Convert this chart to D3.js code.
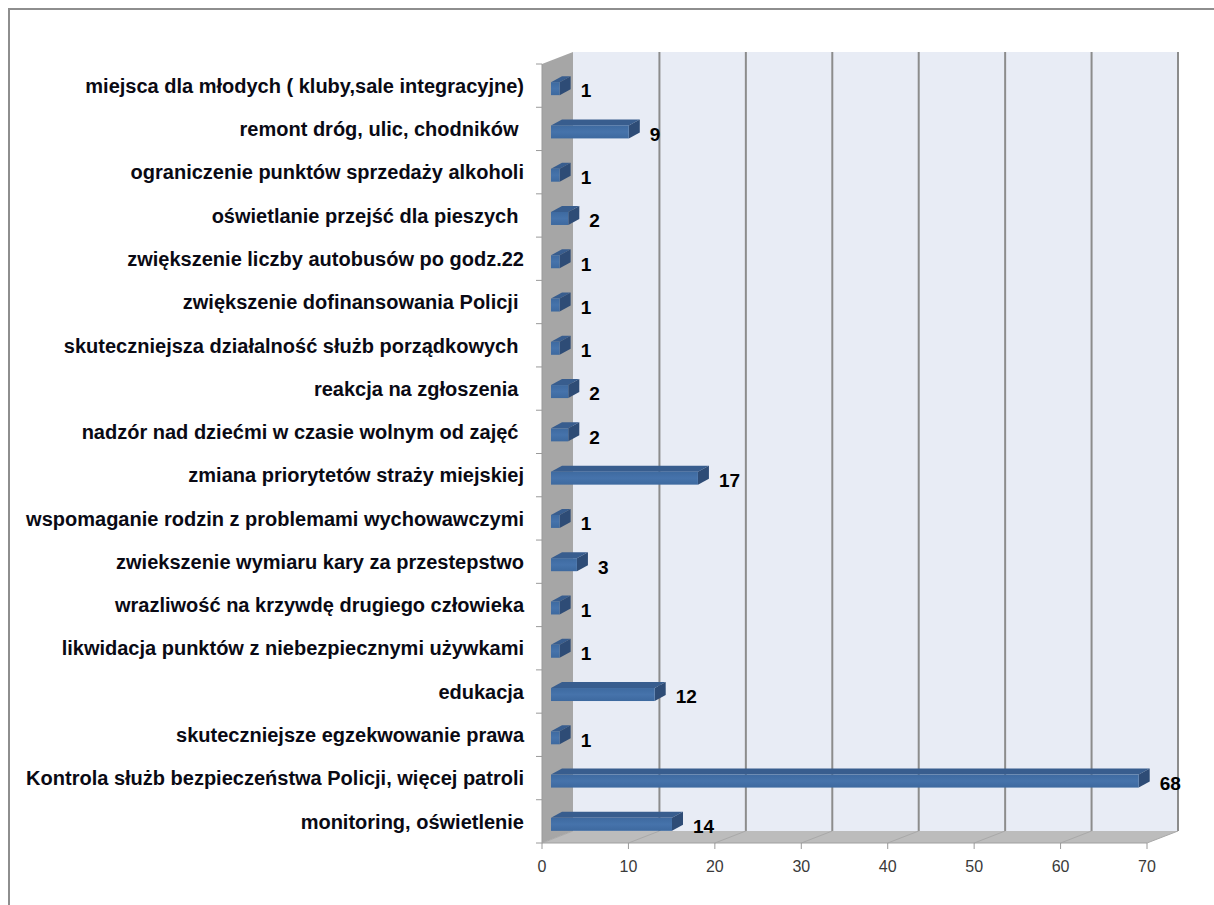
<!DOCTYPE html>
<html>
<head>
<meta charset="utf-8">
<script src="https://cdn.jsdelivr.net/npm/d3@7"></script>
<style>
  body { margin: 0; background: #fff; }
  svg text { font-family: "Liberation Sans", Arial, sans-serif; }
</style>
</head>
<body>
<div id="chart"></div>
<script>
// categories top to bottom, with the answer counts
var categories = [
  "miejsca dla młodych ( kluby,sale integracyjne)",
  "remont dróg, ulic, chodników ",
  "ograniczenie punktów sprzedaży alkoholi",
  "oświetlanie przejść dla pieszych ",
  "zwiększenie liczby autobusów po godz.22",
  "zwiększenie dofinansowania Policji ",
  "skuteczniejsza działalność służb porządkowych ",
  "reakcja na zgłoszenia ",
  "nadzór nad dziećmi w czasie wolnym od zajęć ",
  "zmiana priorytetów straży miejskiej",
  "wspomaganie rodzin z problemami wychowawczymi",
  "zwiekszenie wymiaru kary za przestepstwo",
  "wrazliwość na krzywdę drugiego człowieka",
  "likwidacja punktów z niebezpiecznymi używkami",
  "edukacja",
  "skuteczniejsze egzekwowanie prawa",
  "Kontrola służb bezpieczeństwa Policji, więcej patroli",
  "monitoring, oświetlenie"
];
var values = [1, 9, 1, 2, 1, 1, 1, 2, 2, 17, 1, 3, 1, 1, 12, 1, 68, 14];
var ticks = [0, 10, 20, 30, 40, 50, 60, 70];

var width = 1214, height = 905;

// 3d look: depth of the walls, and of the bars
var wallDx = 31, wallDy = -12;
var barInset = 9, barDx = 11, barDy = -6, barH = 13;

var svg = d3.select("#chart").append("svg")
    .attr("width", width)
    .attr("height", height);

// outer frame
svg.append("rect")
    .attr("x", 9).attr("y", 9)
    .attr("width", width + 20).attr("height", height + 20)
    .attr("fill", "#fff")
    .attr("stroke", "#8e8e8e")
    .attr("stroke-width", 2);

// scales on the front plane
var x = d3.scaleLinear().domain([0, 70]).range([542, 1147]);
var y = d3.scaleBand().domain(categories).range([64, 843]).padding(0);

var x0 = x(0), x1 = x(70), yTop = y.range()[0], yBot = y.range()[1];

// back wall
svg.append("rect")
    .attr("x", x0 + wallDx).attr("y", yTop + wallDy)
    .attr("width", x1 - x0).attr("height", yBot - yTop)
    .attr("fill", "#e8ecf5");

// left side wall
svg.append("polygon")
    .attr("points", [[x0, yTop], [x0 + wallDx, yTop + wallDy], [x0 + wallDx, yBot + wallDy], [x0, yBot]].join(" "))
    .attr("fill", "#a6a6a6");

// floor
svg.append("polygon")
    .attr("points", [[x0, yBot], [x0 + wallDx, yBot + wallDy], [x1 + wallDx, yBot + wallDy], [x1, yBot]].join(" "))
    .attr("fill", "#bcbcbc");

// gridlines on the back wall + on the floor
svg.selectAll(".grid").data(ticks.slice(1)).enter().append("line")
    .attr("x1", function(d) { return x(d) + wallDx; })
    .attr("x2", function(d) { return x(d) + wallDx; })
    .attr("y1", yTop + wallDy)
    .attr("y2", yBot + wallDy)
    .attr("stroke", "#8c8c8c")
    .attr("stroke-width", 2);

svg.selectAll(".floorline").data(ticks).enter().append("line")
    .attr("x1", function(d) { return x(d); })
    .attr("x2", function(d) { return x(d) + wallDx; })
    .attr("y1", yBot)
    .attr("y2", yBot + wallDy)
    .attr("stroke", "#a9a9a9")
    .attr("stroke-width", 1);

// front edges
svg.append("line")
    .attr("x1", x0).attr("x2", x1).attr("y1", yBot).attr("y2", yBot)
    .attr("stroke", "#a0a0a0").attr("stroke-width", 1);
svg.append("line")
    .attr("x1", x0).attr("x2", x0).attr("y1", yTop).attr("y2", yBot)
    .attr("stroke", "#9a9a9a").attr("stroke-width", 1);

// category tick marks on the left
svg.selectAll(".ytick").data(d3.range(categories.length + 1)).enter().append("line")
    .attr("x1", x0 - 6).attr("x2", x0)
    .attr("y1", function(i) { return yTop + i * y.step(); })
    .attr("y2", function(i) { return yTop + i * y.step(); })
    .attr("stroke", "#9a9a9a");

// value axis ticks + labels
svg.selectAll(".xtick").data(ticks).enter().append("line")
    .attr("x1", function(d) { return x(d); })
    .attr("x2", function(d) { return x(d); })
    .attr("y1", yBot).attr("y2", yBot + 6)
    .attr("stroke", "#9a9a9a");

svg.selectAll(".xlabel").data(ticks).enter().append("text")
    .attr("x", function(d) { return x(d); })
    .attr("y", yBot + 29)
    .attr("text-anchor", "middle")
    .style("font-size", "16px")
    .style("fill", "#3a3a3a")
    .text(function(d) { return d; });

// category labels
svg.selectAll(".cat").data(categories).enter().append("text")
    .attr("x", 524)
    .attr("y", function(d) { return y(d) + y.bandwidth() / 2; })
    .attr("dy", "0.36em")
    .attr("text-anchor", "end")
    .style("font-size", "20px")
    .style("font-weight", "bold")
    .style("white-space", "pre")
    .style("fill", "#0a0a14")
    .text(function(d) { return d; });

// gradient for the bar front face
var defs = svg.append("defs");
var gFront = defs.append("linearGradient").attr("id", "front").attr("x1", 0).attr("y1", 0).attr("x2", 0).attr("y2", 1);
gFront.append("stop").attr("offset", "0%").attr("stop-color", "#3e6aa0");
gFront.append("stop").attr("offset", "50%").attr("stop-color", "#4673ab");
gFront.append("stop").attr("offset", "100%").attr("stop-color", "#3d699f");

// bars
var bars = svg.selectAll(".bar").data(categories).enter().append("g");

function barY(d) { return y(d) + y.bandwidth() / 2 + 3 - barH / 2; }
function barX0() { return x(0) + barInset; }
function barX1(d, i) { return x(values[i]) + barInset; }

// top face
bars.append("polygon")
    .attr("points", function(d, i) {
      var a = barX0(), b = barX1(d, i), t = barY(d);
      return [[a, t], [a + barDx, t + barDy], [b + barDx, t + barDy], [b, t]].join(" ");
    })
    .attr("fill", "#385d8e");

// side face
bars.append("polygon")
    .attr("points", function(d, i) {
      var b = barX1(d, i), t = barY(d);
      return [[b, t], [b + barDx, t + barDy], [b + barDx, t + barDy + barH], [b, t + barH]].join(" ");
    })
    .attr("fill", "#2e4c76");

// front face
bars.append("rect")
    .attr("x", barX0)
    .attr("y", barY)
    .attr("width", function(d, i) { return barX1(d, i) - barX0(); })
    .attr("height", barH)
    .attr("fill", "url(#front)");

// value labels
svg.selectAll(".val").data(categories).enter().append("text")
    .attr("x", function(d, i) { return barX1(d, i) + barDx + 10; })
    .attr("y", function(d) { return barY(d) + barH / 2 + 2; })
    .attr("dy", "0.36em")
    .style("font-size", "19px")
    .style("font-weight", "bold")
    .style("fill", "#000")
    .text(function(d, i) { return values[i]; });
</script>
</body>
</html>
